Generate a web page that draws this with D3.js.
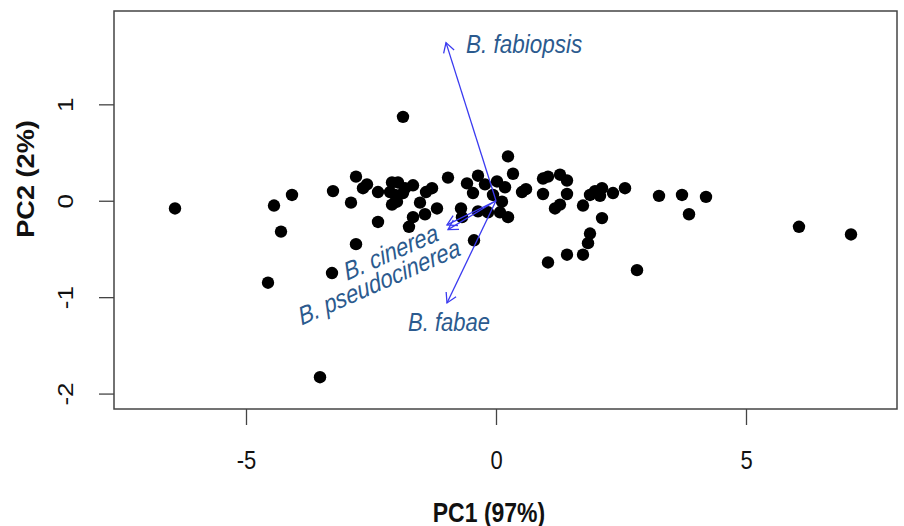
<!DOCTYPE html>
<html>
<head>
<meta charset="utf-8">
<script src="https://cdn.jsdelivr.net/npm/d3@7"></script>
<style>
  html, body { margin: 0; padding: 0; background: #fff; }
  svg { display: block; font-family: "Liberation Sans", Arial, sans-serif; }
</style>
</head>
<body>
<svg id="chart" width="904" height="526"></svg>
<script>
// ---- data ----
const pc1 = [-6.42,-4.56,-4.44,-4.30,-4.08,-3.52,-3.28,-3.26,-2.90,-2.80,-2.66,-2.58,-2.36,-2.36,-2.80,
  -2.08,-1.96,-2.12,-2.02,-1.86,-1.82,-1.66,-1.86,-1.40,-1.28,-2.08,-1.98,-1.52,-1.18,-1.66,-1.42,-1.74,
  -0.96,-0.58,-0.36,-0.22,-0.46,-0.70,-0.68,-0.36,-0.16,-0.44,0.02,0.24,0.34,0.18,-0.06,0.08,0.24,
  0.52,0.60,0.94,1.04,1.28,1.42,0.94,1.42,1.18,1.28,1.74,1.88,1.98,2.08,2.12,2.34,2.58,2.12,1.88,1.84,
  1.74,1.42,1.04,2.82,3.26,3.72,4.20,3.86,6.06,7.10,0.12];
const pc2 = [-0.08,-0.85,-0.05,-0.32,0.06,-1.83,-0.75,0.10,-0.02,0.25,0.13,0.17,0.09,-0.22,-0.45,
  0.19,0.19,0.09,0.06,0.87,0.13,0.16,0.08,0.09,0.13,-0.04,-0.01,-0.02,-0.08,-0.17,-0.14,-0.27,
  0.24,0.18,0.26,0.17,0.08,-0.08,-0.17,-0.11,-0.12,-0.41,0.20,0.46,0.28,0.14,0.06,-0.12,-0.17,
  0.09,0.12,0.23,0.25,0.27,0.21,0.07,0.07,-0.08,-0.04,-0.05,0.06,0.10,0.05,0.13,0.08,0.13,-0.18,-0.34,-0.44,
  -0.56,-0.56,-0.64,-0.72,0.05,0.06,0.04,-0.14,-0.27,-0.35,-0.01];
const species = ["B. fabiopsis", "B. fabae", "B. cinerea", "B. pseudocinerea"];
const loadX = [-1.00, -0.98, -0.98, -0.96];
const loadY = [1.64, -1.06, -0.25, -0.30];
const xTicks = [-5, 0, 5];
const yTicks = [-2, -1, 0, 1];
const xTitle = "PC1 (97%)";
const yTitle = "PC2 (2%)";

// ---- layout ----
const svg = d3.select("#chart");
const L = 114, R = 897, T = 11, B = 409;
const SY = 1.18; // vertical stretch of glyphs seen in the reference
const x = d3.scaleLinear().domain([-7.64, 8.02]).range([L, R]);
const y = d3.scaleLinear().domain([-2.16, 1.968]).range([B, T]);
const fmt = d => String(d);

const axisCol = "#444";
const FONT = "Liberation Sans, Arial, sans-serif";

// x axis
const xa = svg.append("g").attr("transform", `translate(0,${B})`)
  .call(d3.axisBottom(x).tickValues(xTicks).tickSize(16).tickFormat(fmt));
xa.select(".domain").remove();
xa.selectAll("line").attr("stroke", axisCol).attr("stroke-width", 1.3);
xa.selectAll("text").attr("y", null).attr("dy", null)
  .attr("font-size", 22).attr("fill", "#111").attr("font-family", FONT)
  .attr("transform", `translate(0,${469 - B}) scale(1,${SY})`);

// y axis
const ya = svg.append("g").attr("transform", `translate(${L},0)`)
  .call(d3.axisLeft(y).tickValues(yTicks).tickSize(15).tickFormat(fmt));
ya.select(".domain").remove();
ya.selectAll("line").attr("stroke", axisCol).attr("stroke-width", 1.3);
ya.selectAll("text").attr("font-size", 22).attr("fill", "#111")
  .attr("font-family", FONT)
  .attr("x", null).attr("dy", null).attr("y", null)
  .attr("text-anchor", "middle")
  .attr("transform", `translate(${-(L - 73)},0) rotate(-90) scale(${SY},1)`);

// frame
svg.append("rect").attr("x", L).attr("y", T).attr("width", R - L).attr("height", B - T)
  .attr("fill", "none").attr("stroke", axisCol).attr("stroke-width", 1.5);

// titles
svg.append("text").attr("transform", `translate(489,522) scale(1,${SY})`).attr("text-anchor", "middle")
  .attr("font-weight", "bold").attr("font-size", 23).attr("fill", "#111").text(xTitle);
svg.append("text").attr("transform", `translate(34,179) rotate(-90) scale(${SY},1)`).attr("text-anchor", "middle")
  .attr("font-weight", "bold").attr("font-size", 23).attr("fill", "#111").text(yTitle);

// points
svg.append("g").selectAll("circle").data(pc1.map((v, i) => [v, pc2[i]])).join("circle")
  .attr("cx", d => x(d[0])).attr("cy", d => y(d[1])).attr("r", 6.2).attr("fill", "#000");

// arrows
const arrowCol = "#3a3af0";
const labelCol = "#2b5a8e";
const ag = svg.append("g");
species.forEach((s, i) => {
  const x0 = x(0), y0 = y(0), x1 = x(loadX[i]), y1 = y(loadY[i]);
  ag.append("line").attr("x1", x0).attr("y1", y0).attr("x2", x1).attr("y2", y1)
    .attr("stroke", arrowCol).attr("stroke-width", 1.3);
  const ang = Math.atan2(y1 - y0, x1 - x0), hl = 11, ha = Math.PI / 6;
  const p = d3.path();
  p.moveTo(x1 - hl * Math.cos(ang - ha), y1 - hl * Math.sin(ang - ha));
  p.lineTo(x1, y1);
  p.lineTo(x1 - hl * Math.cos(ang + ha), y1 - hl * Math.sin(ang + ha));
  ag.append("path").attr("d", p.toString()).attr("fill", "none").attr("stroke", arrowCol).attr("stroke-width", 1.3);
});

// labels
const lab = (i, dx, dy, anchor, rot, fs) => {
  const tx = x(loadX[i]) + dx, ty = y(loadY[i]) + dy;
  svg.append("text").attr("transform", `translate(${tx},${ty}) scale(1,${SY}) rotate(${rot})`)
    .attr("text-anchor", anchor).attr("font-style", "italic").attr("font-size", fs)
    .attr("fill", labelCol).text(species[i]);
};
lab(0, 20, 10, "start", 0, 22.5);
lab(1, 2, 28, "middle", 0, 22);
lab(2, -7, 15, "end", -20.5, 22);
lab(3, 14, 25, "end", -20.5, 22);
</script>
</body>
</html>
